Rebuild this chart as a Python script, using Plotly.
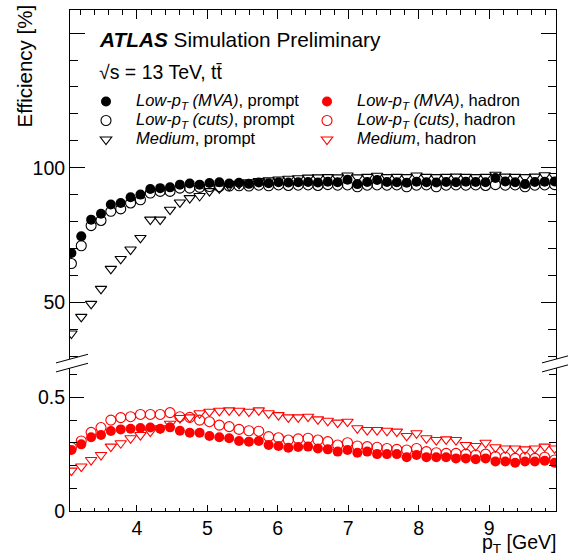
import plotly.graph_objects as go

# ---------------- data ----------------
pt = [3.07, 3.21, 3.35, 3.49, 3.63, 3.77, 3.91, 4.05, 4.19, 4.33,
      4.47, 4.61, 4.75, 4.89, 5.03, 5.17, 5.31, 5.45, 5.59, 5.73,
      5.87, 6.01, 6.15, 6.29, 6.43, 6.57, 6.71, 6.85, 6.99, 7.13,
      7.27, 7.41, 7.55, 7.69, 7.83, 7.97, 8.11, 8.25, 8.39, 8.53,
      8.67, 8.81, 8.95, 9.09, 9.23, 9.37, 9.51, 9.65, 9.79, 9.93]

mva_prompt = [68.3, 74.5, 80.7, 82.9, 86.3, 86.9, 89.0, 90.0, 92.1, 92.4,
              92.7, 93.7, 94.1, 93.7, 94.3, 94.6, 94.1, 94.4, 94.0, 94.5,
              94.2, 94.6, 94.5, 94.6, 94.7, 94.5, 94.8, 94.6, 95.5, 93.9,
              94.7, 95.4, 94.7, 94.6, 94.4, 94.8, 94.6, 94.5, 94.7, 94.6,
              94.8, 94.7, 94.6, 96.2, 94.9, 94.6, 93.9, 94.7, 94.8, 94.9]

cuts_prompt = [64.4, 71.0, 78.5, 80.4, 83.8, 84.7, 86.9, 88.1, 90.6, 91.2,
               91.2, 92.4, 92.4, 92.7, 93.0, 93.0, 93.2, 93.3, 93.2, 93.5,
               93.3, 93.6, 93.4, 93.5, 93.6, 93.4, 93.7, 93.5, 93.6, 92.9,
               93.5, 93.6, 93.5, 93.6, 92.9, 93.5, 93.6, 92.9, 93.5, 93.6,
               93.5, 93.6, 93.4, 93.7, 93.5, 93.6, 92.9, 93.5, 93.6, 93.7]

medium_prompt = [38.4, 44.6, 49.4, 55.0, 62.4, 66.1, 69.6, 73.9, 80.7, 80.7,
                 84.4, 87.1, 88.7, 89.5, 91.3, 92.3, 93.3, 94.0, 94.6, 95.0,
                 95.3, 95.6, 95.9, 96.1, 96.3, 96.4, 96.5, 96.4, 97.1, 96.4,
                 96.6, 97.0, 96.5, 96.6, 96.5, 97.1, 96.6, 96.5, 96.6, 96.7,
                 96.6, 96.5, 96.6, 97.4, 96.7, 96.6, 96.5, 96.7, 97.2, 96.9]

mva_hadron = [0.269, 0.294, 0.325, 0.335, 0.353, 0.360, 0.363, 0.366, 0.368, 0.363,
              0.369, 0.354, 0.345, 0.345, 0.331, 0.325, 0.321, 0.309, 0.306, 0.309,
              0.291, 0.287, 0.279, 0.282, 0.284, 0.276, 0.272, 0.262, 0.269, 0.257,
              0.262, 0.251, 0.251, 0.251, 0.237, 0.247, 0.237, 0.237, 0.237, 0.232,
              0.232, 0.228, 0.232, 0.218, 0.218, 0.213, 0.218, 0.218, 0.222, 0.213]

cuts_hadron = [0.280, 0.309, 0.347, 0.368, 0.401, 0.412, 0.416, 0.426, 0.426, 0.426,
               0.434, 0.416, 0.413, 0.401, 0.394, 0.379, 0.372, 0.360, 0.354, 0.352,
               0.328, 0.323, 0.313, 0.318, 0.321, 0.313, 0.306, 0.291, 0.301, 0.287,
               0.284, 0.281, 0.276, 0.272, 0.269, 0.276, 0.262, 0.257, 0.254, 0.254,
               0.251, 0.247, 0.251, 0.240, 0.237, 0.232, 0.237, 0.232, 0.237, 0.225]

medium_hadron = [0.178, 0.196, 0.225, 0.247, 0.284, 0.299, 0.321, 0.335, 0.350, 0.365,
                 0.385, 0.410, 0.413, 0.431, 0.438, 0.442, 0.444, 0.442, 0.438, 0.444,
                 0.431, 0.423, 0.413, 0.413, 0.416, 0.404, 0.398, 0.390, 0.394, 0.365,
                 0.357, 0.357, 0.354, 0.350, 0.331, 0.343, 0.321, 0.313, 0.316, 0.313,
                 0.291, 0.287, 0.301, 0.281, 0.276, 0.276, 0.272, 0.276, 0.284, 0.276]

legend_names = {
    "mva_prompt": "<i>Low-p<sub>T</sub> (MVA)</i>, prompt",
    "mva_hadron": "<i>Low-p<sub>T</sub> (MVA)</i>, hadron",
    "cuts_prompt": "<i>Low-p<sub>T</sub> (cuts)</i>, prompt",
    "cuts_hadron": "<i>Low-p<sub>T</sub> (cuts)</i>, hadron",
    "medium_prompt": "<i>Medium</i>, prompt",
    "medium_hadron": "<i>Medium</i>, hadron",
}

FONT = "Liberation Sans, Arial, Helvetica, sans-serif"
LEG_FS = 16.5


def lname(key):
    return '<span style="font-size:%spx">%s</span>' % (LEG_FS, legend_names[key])


fig = go.Figure()

# upper panel (prompt) : triangles, open circles, filled circles (filled on top)
fig.add_trace(go.Scatter(x=pt, y=medium_prompt, xaxis="x2", yaxis="y2", mode="markers",
                         name=lname("medium_prompt"), legend="legend", legendrank=3,
                         marker=dict(symbol="triangle-down-open", size=10, color="black",
                                     line=dict(width=1.1))))
fig.add_trace(go.Scatter(x=pt, y=cuts_prompt, xaxis="x2", yaxis="y2", mode="markers",
                         name=lname("cuts_prompt"), legend="legend", legendrank=2,
                         marker=dict(symbol="circle-open", size=10, color="black",
                                     line=dict(width=1.1))))
fig.add_trace(go.Scatter(x=pt, y=mva_prompt, xaxis="x2", yaxis="y2", mode="markers",
                         name=lname("mva_prompt"), legend="legend", legendrank=1,
                         marker=dict(symbol="circle", size=10, color="black")))

# lower panel (hadron)
fig.add_trace(go.Scatter(x=pt, y=medium_hadron, xaxis="x", yaxis="y", mode="markers",
                         name=lname("medium_hadron"), legend="legend2", legendrank=3,
                         marker=dict(symbol="triangle-down-open", size=10, color="#ff0000",
                                     line=dict(width=1.1))))
fig.add_trace(go.Scatter(x=pt, y=cuts_hadron, xaxis="x", yaxis="y", mode="markers",
                         name=lname("cuts_hadron"), legend="legend2", legendrank=2,
                         marker=dict(symbol="circle-open", size=10, color="#ff0000",
                                     line=dict(width=1.1))))
fig.add_trace(go.Scatter(x=pt, y=mva_hadron, xaxis="x", yaxis="y", mode="markers",
                         name=lname("mva_hadron"), legend="legend2", legendrank=1,
                         marker=dict(symbol="circle", size=10, color="#ff0000")))

W, H = 569, 557
L, R, T, B = 70, 13, 10, 46
PW, PH = W - L - R, H - T - B
Y_AX_BOTTOM = H - B  # pixel row of x axis


def px(xp):
    return (xp - L) / PW


def py(yp):
    return (Y_AX_BOTTOM - yp) / PH


upper_bottom_px = 359
lower_top_px = 368

tickfont = dict(family=FONT, size=19.5, color="black")

legend_common = dict(orientation="v", xanchor="left", y=py(87), yanchor="top",
                     bgcolor="rgba(0,0,0,0)", borderwidth=0,
                     font=dict(family=FONT, size=12.1, color="black"),
                     itemwidth=50, traceorder="normal",
                     itemclick=False, itemdoubleclick=False)

fig.update_layout(
    width=W, height=H,
    margin=dict(l=L, r=R, t=T, b=B, pad=0, autoexpand=False),
    paper_bgcolor="white", plot_bgcolor="white",
    font=dict(family=FONT, color="black"),
    showlegend=True,
    xaxis=dict(domain=[0, 1], anchor="y", range=[3.05, 9.95],
               tickmode="array", tickvals=[4, 5, 6, 7, 8, 9],
               ticks="inside", ticklen=6, tickwidth=1, tickcolor="black",
               minor=dict(dtick=0.2, tick0=3.0, ticks="inside", ticklen=3, tickcolor="black", showgrid=False),
               showline=True, linecolor="black", linewidth=1, mirror=False,
               showgrid=False, zeroline=False, tickfont=tickfont),
    xaxis2=dict(domain=[0, 1], anchor="y2", matches="x", side="top",
                tickmode="array", tickvals=[4, 5, 6, 7, 8, 9],
                ticks="inside", ticklen=9, tickwidth=1, tickcolor="black",
                minor=dict(dtick=0.2, tick0=3.0, ticks="inside", ticklen=4.5, tickcolor="black", showgrid=False),
                showline=True, linecolor="black", linewidth=1, mirror=False,
                showticklabels=False, showgrid=False, zeroline=False),
    yaxis=dict(domain=[0, py(lower_top_px)], anchor="x", range=[0, (Y_AX_BOTTOM - lower_top_px) / 226.7],
               tickmode="array", tickvals=[0, 0.5], ticktext=["0", "0.5"],
               ticks="inside", ticklen=14, tickwidth=1, tickcolor="black",
               minor=dict(dtick=0.1, tick0=0, ticks="inside", ticklen=7, tickcolor="black", showgrid=False),
               showline=True, linecolor="black", linewidth=1, mirror="ticks",
               showgrid=False, zeroline=False, tickfont=tickfont),
    yaxis2=dict(domain=[py(upper_bottom_px), 1], anchor="x2",
                range=[100 - (upper_bottom_px - 167.7) / 2.692, 100 + (167.7 - T) / 2.692],
                tickmode="array", tickvals=[50, 100, 150], ticktext=["50", "100", ""],
                ticks="inside", ticklen=15, tickwidth=1, tickcolor="black",
                minor=dict(dtick=10, tick0=0, ticks="inside", ticklen=8, tickcolor="black", showgrid=False),
                showline=True, linecolor="black", linewidth=1, mirror="ticks",
                showgrid=False, zeroline=False, tickfont=tickfont),
    legend=dict(x=px(76), **legend_common),
    legend2=dict(x=px(297), **legend_common),
)

# text annotations
fig.add_annotation(text="<b><i>ATLAS</i></b> Simulation Preliminary", xref="paper", yref="paper",
                   x=px(97), y=py(39.5), xanchor="left", yanchor="middle", showarrow=False,
                   font=dict(family=FONT, size=20.8, color="black"))
fig.add_annotation(text="\u221As = 13 TeV, tt\u0304", xref="paper", yref="paper",
                   x=px(97), y=py(71.5), xanchor="left", yanchor="middle", showarrow=False,
                   font=dict(family=FONT, size=19.5, color="black"))
fig.add_annotation(text="p<sub>T</sub> [GeV]", xref="paper", yref="paper",
                   x=px(557), y=py(556.5), xanchor="right", yanchor="bottom", showarrow=False,
                   borderpad=0,
                   font=dict(family=FONT, size=19.5, color="black"))
fig.add_annotation(text="Efficiency [%]", xref="paper", yref="paper", textangle=-90,
                   x=px(24), y=py(3), xanchor="center", yanchor="top", showarrow=False,
                   font=dict(family=FONT, size=20.5, color="black"))

# axis-break marks
slope = 0.27
for xa, xl, xr in [(70.5, 56, 88), (556.5, 542, 568)]:
    for ya in (upper_bottom_px, lower_top_px):
        fig.add_shape(type="line", xref="paper", yref="paper",
                      x0=px(xl), y0=py(ya + slope * (xa - xl)),
                      x1=px(xr), y1=py(ya - slope * (xr - xa)),
                      line=dict(color="black", width=1))

fig.write_html("out.html", config={"displayModeBar": False})
